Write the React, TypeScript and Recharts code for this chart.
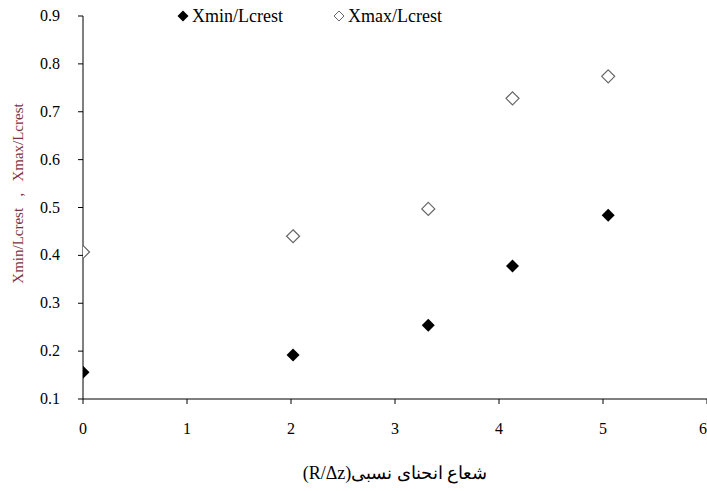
import React from "react";
import { ScatterChart, Scatter, XAxis, YAxis } from "recharts";

const ratioR = [0, 2.02, 3.32, 4.13, 5.05];
const xMinValues = [0.156, 0.192, 0.254, 0.378, 0.484];
const xMaxValues = [0.407, 0.44, 0.497, 0.728, 0.774];
const xTicks = [0, 1, 2, 3, 4, 5, 6];
const yTicks = [0.1, 0.2, 0.3, 0.4, 0.5, 0.6, 0.7, 0.8, 0.9];

const minData = ratioR.map((r, i) => ({ r, v: xMinValues[i] }));
const maxData = ratioR.map((r, i) => ({ r, v: xMaxValues[i] }));

const FONT = "'Liberation Serif', 'Times New Roman', serif";
const NB = "\u00A0";

const diamondPath = (cx: number, cy: number, h: number) =>
  `M${cx},${cy - h}L${cx + h},${cy}L${cx},${cy + h}L${cx - h},${cy}Z`;

const FilledDiamond = (props: any) => (
  <path d={diamondPath(props.cx, props.cy, 6.5)} fill="#000" />
);

const HollowDiamond = (props: any) => (
  <path
    d={diamondPath(props.cx, props.cy, 6.5)}
    fill="#fff"
    stroke="#666"
    strokeWidth={1.2}
  />
);

// serif tick labels, drawn by hand so the font sticks
const XTick = (props: any) => (
  <text
    x={props.x}
    y={props.y}
    dy={12}
    textAnchor="middle"
    fill="#000"
    fontSize={16}
    fontFamily={FONT}
  >
    {props.payload.value}
  </text>
);

const YTick = (props: any) => (
  <text
    x={props.x}
    y={props.y}
    dy={5}
    textAnchor="end"
    fill="#000"
    fontSize={16}
    fontFamily={FONT}
  >
    {Number(props.payload.value).toFixed(1)}
  </text>
);

function LegendBox() {
  return (
    <div
      style={{
        position: "absolute",
        top: 5,
        left: 176,
        display: "flex",
        gap: 49,
        fontFamily: FONT,
        fontSize: 18,
        color: "#000",
        lineHeight: "22px",
      }}
    >
      <span style={{ display: "flex", alignItems: "center" }}>
        <svg width={14} height={14} style={{ marginRight: 2 }}>
          <path d={diamondPath(7, 7, 5.5)} fill="#000" />
        </svg>
        Xmin/Lcrest
      </span>
      <span style={{ display: "flex", alignItems: "center" }}>
        <svg width={14} height={14} style={{ marginRight: 2 }}>
          <path d={diamondPath(7, 7, 5)} fill="#fff" stroke="#666" />
        </svg>
        Xmax/Lcrest
      </span>
    </div>
  );
}

export default function App() {
  return (
    <div
      style={{
        position: "absolute",
        left: 0,
        top: 0,
        width: 707,
        height: 491,
        background: "#fff",
        fontFamily: FONT,
      }}
    >
      <ScatterChart
        width={707}
        height={491}
        margin={{ top: 16, right: 0, bottom: 0, left: 0 }}
        style={{ fontFamily: FONT }}
      >
        <XAxis
          type="number"
          dataKey="r"
          domain={[0, 6]}
          ticks={xTicks}
          allowDataOverflow
          height={92}
          tickSize={5}
          tickMargin={18}
          stroke="#000"
          tick={<XTick />}
          label={{
            value: "شعاع انحنای نسبی(R/Δz)",
            position: "insideBottom",
            offset: 12,
            fill: "#000",
            fontSize: 18,
            style: { direction: "rtl", unicodeBidi: "embed" },
          }}
        />
        <YAxis
          type="number"
          dataKey="v"
          domain={[0.1, 0.9]}
          ticks={yTicks}
          allowDataOverflow
          width={83}
          tickSize={5}
          tickMargin={18}
          stroke="#000"
          tick={<YTick />}
          label={{
            value: `Xmin/Lcrest${NB}${NB}${NB},${NB}${NB}${NB}Xmax/Lcrest`,
            angle: -90,
            position: "insideLeft",
            offset: 18,
            dy: -14,
            fill: "#7a3344",
            fontSize: 15,
            style: { textAnchor: "middle" },
          }}
        />
        <Scatter
          name="Xmin/Lcrest"
          data={minData}
          shape={FilledDiamond}
          isAnimationActive={false}
        />
        <Scatter
          name="Xmax/Lcrest"
          data={maxData}
          shape={HollowDiamond}
          isAnimationActive={false}
        />
      </ScatterChart>
      <LegendBox />
    </div>
  );
}
